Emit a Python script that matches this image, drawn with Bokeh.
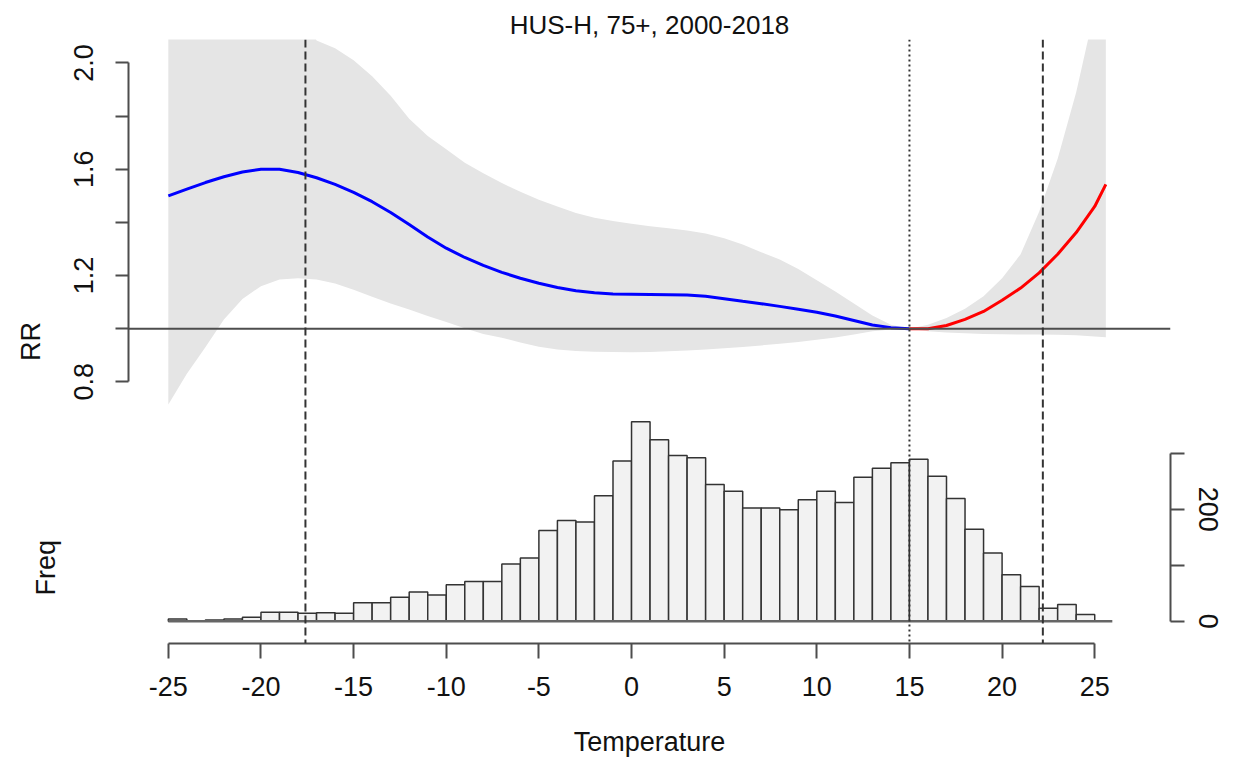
import numpy as np
from bokeh.plotting import figure
from bokeh.models import (Range1d, LinearAxis, FixedTicker, PrintfTickFormatter,
                          Span, Title)
from bokeh.embed import file_html
from bokeh.resources import INLINE

# ---------------------------------------------------------------- data
title_text = "HUS-H, 75+, 2000-2018"
x_label = "Temperature"
rr_label = "RR"
freq_label = "Freq"

# exposure-response curve (relative risk) with 95% confidence band
temps = [-25, -24, -23, -22, -21, -20, -19, -18, -17, -16, -15, -14, -13,
         -12, -11, -10, -9, -8, -7, -6, -5, -4, -3, -2, -1, 0, 1, 2, 3,
         4, 5, 6, 7, 8, 9, 10, 11, 12, 13, 14, 15, 16, 17, 18, 19, 20,
         21, 22, 23, 24, 25, 25.6]
rr_fit = [1.500, 1.525, 1.550, 1.572, 1.590, 1.600, 1.600, 1.588, 1.568,
          1.543, 1.513, 1.478, 1.437, 1.392, 1.345, 1.303, 1.268, 1.238,
          1.212, 1.190, 1.171, 1.155, 1.143, 1.135, 1.131, 1.130, 1.129,
          1.128, 1.127, 1.122, 1.113, 1.103, 1.094, 1.084, 1.073, 1.062,
          1.048, 1.031, 1.014, 1.004, 1.000, 1.000, 1.012, 1.035, 1.065,
          1.107, 1.153, 1.210, 1.280, 1.362, 1.460, 1.543]
rr_high = [3.00, 2.90, 2.80, 2.70, 2.60, 2.50, 2.40, 2.22, 2.085, 2.055,
           2.010, 1.950, 1.877, 1.790, 1.725, 1.675, 1.625, 1.585, 1.548,
           1.515, 1.485, 1.460, 1.435, 1.418, 1.405, 1.395, 1.386, 1.378,
           1.370, 1.358, 1.340, 1.317, 1.288, 1.260, 1.225, 1.182, 1.140,
           1.095, 1.050, 1.015, 1.000, 1.015, 1.040, 1.075, 1.122, 1.190,
           1.280, 1.440, 1.640, 1.890, 2.200, 2.450]
rr_low = [0.715, 0.830, 0.930, 1.035, 1.112, 1.160, 1.185, 1.190, 1.185,
          1.170, 1.147, 1.120, 1.095, 1.072, 1.048, 1.025, 1.002, 0.980,
          0.966, 0.948, 0.932, 0.922, 0.916, 0.913, 0.912, 0.911, 0.912,
          0.915, 0.918, 0.922, 0.926, 0.931, 0.937, 0.943, 0.950, 0.958,
          0.967, 0.978, 0.990, 0.997, 1.000, 0.990, 0.986, 0.983, 0.980,
          0.979, 0.978, 0.978, 0.977, 0.975, 0.971, 0.968]

# minimum-mortality temperature and the two percentile cut-offs
mmt = 15.0
cutoff_temps = [-17.6, 22.2]

# daily temperature histogram: 1-degree bins from -25 to 25
hist_start = -25
hist_counts = [4, 0, 2, 4, 7, 16, 16, 14, 15, 14,
               33, 33, 43, 52, 47, 65, 71, 71, 102, 113,
               162, 180, 177, 224, 286, 356, 324, 296, 292, 244,
               232, 202, 202, 199, 217, 232, 212, 257, 273, 283,
               289, 259, 219, 164, 122, 83, 62, 23, 30, 12]
hist_axis_end = 25.95

x_ticks = [-25, -20, -15, -10, -5, 0, 5, 10, 15, 20, 25]
rr_ticks = [0.8, 1.2, 1.6, 2.0]
rr_minor_ticks = [1.0, 1.4, 1.8]
freq_ticks = [0, 200]
freq_minor_ticks = [100, 300]

# ---------------------------------------------------------------- layout
W, H = 1243, 761
FL, FR, FT, FB = 128, 1170, 39, 643          # plot frame in canvas pixels
X0, X1 = -27.15, 29.09
RR0, RR1 = -0.1848, 2.0884
F0, F1 = -39.8, 1038.75

FONT = "Liberation Sans"
AX_COLOR = "#4d4d4d"
TEXT_COLOR = "#111111"

p = figure(width=W, height=H, title=None,
           x_range=Range1d(X0, X1), y_range=Range1d(RR0, RR1),
           x_axis_type=None, y_axis_type=None,
           output_backend="svg", toolbar_location=None,
           min_border_left=FL, min_border_right=W - FR,
           min_border_top=FT, min_border_bottom=H - FB)
p.extra_y_ranges = {"freq": Range1d(F0, F1)}
p.outline_line_color = None
p.background_fill_color = "white"
p.border_fill_color = "white"

# confidence band
t = np.array(temps)
band_x = np.concatenate([t, t[::-1]])
band_y = np.concatenate([np.array(rr_high), np.array(rr_low)[::-1]])
p.patch(band_x, band_y, fill_color="#e5e5e5", line_color=None)

# reference line RR = 1
p.add_layout(Span(location=1.0, dimension="width", line_color=AX_COLOR,
                  line_width=2))

# histogram
left = [hist_start + i for i in range(len(hist_counts))]
right = [v + 1 for v in left]
p.quad(left=left, right=right, bottom=0, top=hist_counts,
       y_range_name="freq", fill_color="#f2f2f2",
       line_color="#333333", line_width=1.5)
p.segment(x0=[hist_start], x1=[hist_axis_end], y0=[0], y1=[0],
          y_range_name="freq", line_color="#666666", line_width=2.5)

# fitted curve: cold side in blue, heat side in red
fit = np.array(rr_fit)
cold = t <= mmt
hot = t >= mmt
p.line(t[cold], fit[cold], line_color="#0000ff", line_width=3)
p.line(t[hot], fit[hot], line_color="#ff0000", line_width=3)

# vertical markers
for c in cutoff_temps:
    p.add_layout(Span(location=c, dimension="height", line_color="#333333",
                      line_width=2, line_dash="8 4"))
p.add_layout(Span(location=mmt, dimension="height", line_color="#333333",
                  line_width=2, line_dash="2 3"))


def style_axis(ax, tick_len, standoff):
    ax.axis_line_color = AX_COLOR
    ax.axis_line_width = 2
    ax.major_tick_line_color = AX_COLOR
    ax.major_tick_line_width = 2
    ax.minor_tick_line_color = AX_COLOR
    ax.minor_tick_line_width = 2
    ax.major_tick_in = 0
    ax.major_tick_out = tick_len
    ax.minor_tick_in = 0
    ax.minor_tick_out = tick_len
    ax.major_label_text_font = FONT
    ax.major_label_text_font_size = "27px"
    ax.major_label_text_color = TEXT_COLOR
    ax.major_label_standoff = standoff


# bottom: temperature axis, then a label-only axis for its title
x_axis = LinearAxis(bounds=(-25, 25), ticker=FixedTicker(ticks=x_ticks),
                    major_label_overrides={v: str(v) for v in x_ticks})
style_axis(x_axis, 15, 18)
p.add_layout(x_axis, "below")

x_title_axis = LinearAxis(ticker=FixedTicker(ticks=[]), axis_label=x_label,
                          axis_line_color=None, major_tick_line_color=None,
                          minor_tick_line_color=None, major_tick_out=0,
                          major_tick_in=0, minor_tick_out=0, minor_tick_in=0,
                          major_label_standoff=0, axis_label_standoff=28,
                          axis_label_text_font=FONT,
                          axis_label_text_font_size="27px",
                          axis_label_text_font_style="normal",
                          axis_label_text_color=TEXT_COLOR)
p.add_layout(x_title_axis, "below")

# left: relative-risk axis, then the two vertical titles
rr_axis = LinearAxis(bounds=(0.8, 2.0),
                     ticker=FixedTicker(ticks=rr_ticks, minor_ticks=rr_minor_ticks),
                     formatter=PrintfTickFormatter(format="%.1f"))
style_axis(rr_axis, 13, 22)
rr_axis.major_label_orientation = "vertical"
p.add_layout(rr_axis, "left")

p.add_layout(Title(text=freq_label, align="left", offset=48,
                   vertical_align="top", standoff=18,
                   text_font=FONT, text_font_size="27px",
                   text_font_style="normal", text_color=TEXT_COLOR), "left")
p.add_layout(Title(text=rr_label, align="center", vertical_align="bottom",
                   standoff=-49, text_font=FONT, text_font_size="27px",
                   text_font_style="normal", text_color=TEXT_COLOR), "left")

# right: frequency axis of the histogram
freq_axis = LinearAxis(y_range_name="freq", bounds=(0, 300),
                       ticker=FixedTicker(ticks=freq_ticks,
                                          minor_ticks=freq_minor_ticks))
style_axis(freq_axis, 14, 14)
freq_axis.major_label_orientation = "vertical"
p.add_layout(freq_axis, "right")

# main title
p.add_layout(Title(text=title_text, align="center", vertical_align="bottom",
                   standoff=0, text_font=FONT, text_font_size="26px",
                   text_font_style="normal", text_color=TEXT_COLOR), "above")

open("out.html", "w").write(file_html(p, INLINE))
